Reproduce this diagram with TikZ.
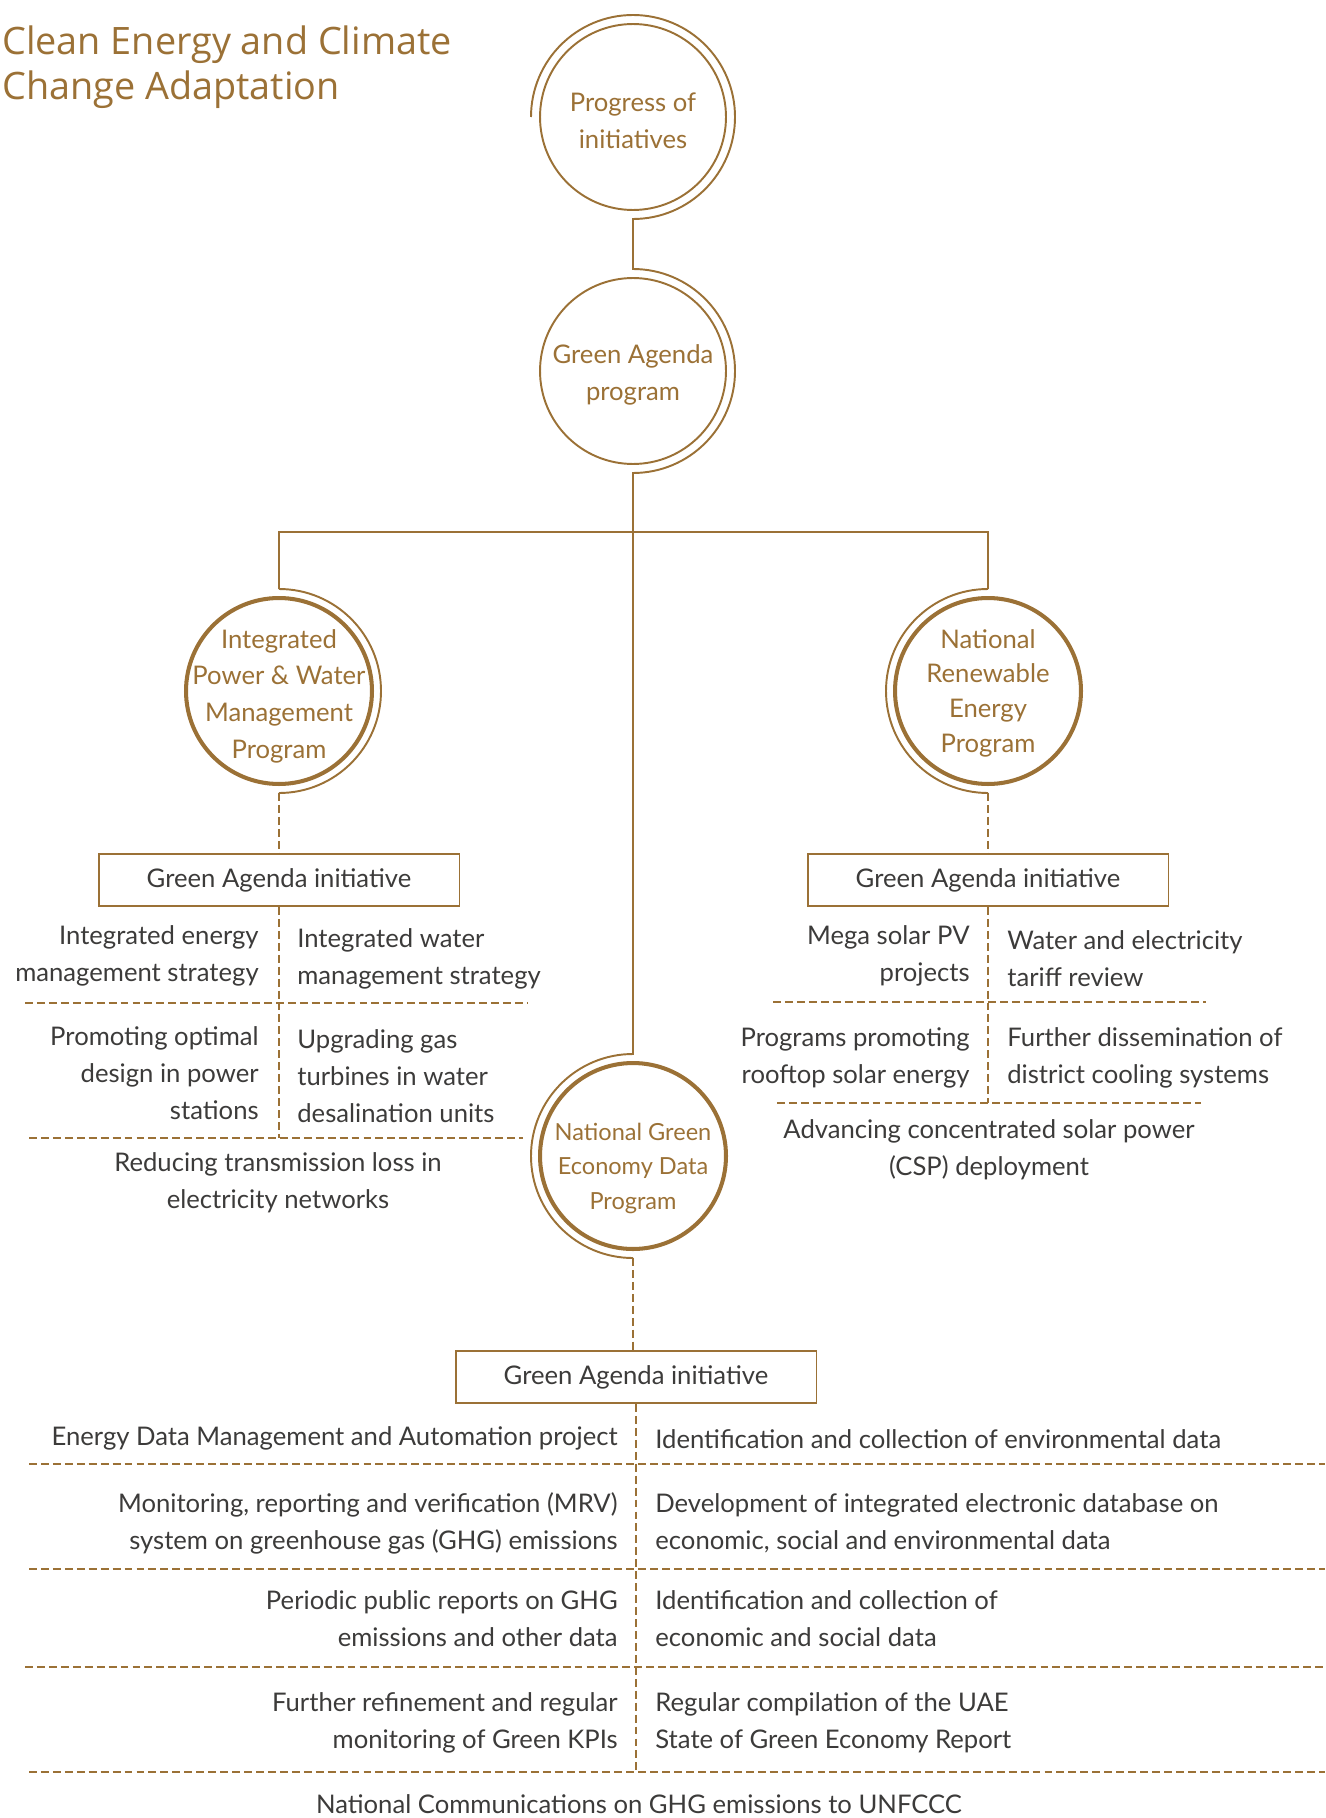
\documentclass[tikz,border=0pt]{standalone}
\usepackage{fontspec}
\setmainfont{Lato}
\newfontfamily\titlefont{Open Sans}
\usetikzlibrary{calc}
\definecolor{gold}{RGB}{155,113,54}
\definecolor{ink}{RGB}{60,59,58}
\tikzset{
    ring/.style = {draw = gold, circle, line width = 1.1pt, minimum size = 3.72cm, inner sep = 0pt},
    thick ring/.style = {ring, line width = 2.3pt},
    gtext/.style = {text = gold, align = center, inner sep = 0pt},
    halo/.style = {draw = gold, line width = 1.1pt},
    dline/.style = {draw = gold, line width = 1.1pt, dash pattern = on 4.5pt off 2.3pt},
    ibox/.style = {draw = gold, line width = 1.1pt, minimum width = 7.22cm, minimum height = 1.04cm, text = ink},
    ltext/.style = {anchor = east, align = right, inner sep = 0pt, text = ink},
    rtext/.style = {anchor = west, align = left, inner sep = 0pt, text = ink},
    ctext/.style = {align = center, inner sep = 0pt, text = ink}
}

\begin{document}
\begin{tikzpicture}[x = 0.02cm, y = 0.02cm, font = \fontsize{14.6}{21}\selectfont]
    \useasboundingbox (0,0) rectangle (1325,-1818);
    \node(title)[anchor = north west, inner sep = 0pt, align = left, text = gold, font = \titlefont\fontsize{21.5}{26}\selectfont] at (2,-25) {Clean Energy and Climate\\Change Adaptation};
    \draw 
    (633,-117)node(1)[ring, label = {[name = t1, gtext, yshift = -2pt]center:Progress of\\initiatives}]{}
    (633,-371)node(2)[ring, label = {[name = t2, gtext, yshift = -2.2pt]center:Green Agenda\\program}]{}
    (279,-691)node(3)[thick ring, label = {[name = t3, gtext, yshift = -3pt]center:Integrated\\Power \& Water\\Management\\Program}]{}
    (988,-691)node(5)[thick ring, label = {[name = t5, gtext, yshift = -1.2pt, font = \fontsize{14.6}{19.8}\selectfont]center:National\\Renewable\\Energy\\Program}]{}
    (633,-1156)node(4)[thick ring, label = {[name = t4, gtext, yshift = -7pt, font = \fontsize{13.4}{19.8}\selectfont]center:National Green\\Economy Data\\Program}]{};
    %
    \coordinate (bar) at (633,-532);
    \draw [halo]($(1.center)+(-102,0)$) arc[start angle = 180, end angle = -90, radius = 102]
        --($(2.center)+(0,102)$) arc[start angle = 90, end angle = -90, radius = 102]
        --($(4.center)+(0,102)$) arc[start angle = 90, end angle = 270, radius = 102];
    \draw [halo]($(3.center)+(0,102)$) |-(bar) -|($(5.center)+(0,102)$);
    \draw [halo]($(3.center)+(0,102)$) arc[start angle = 90, end angle = -90, radius = 102];
    \draw [halo]($(5.center)+(0,102)$) arc[start angle = 90, end angle = 270, radius = 102];
    %
    \draw 
    (279,-880)node(b3)[ibox]{Green Agenda initiative}
    (988,-880)node(b5)[ibox]{Green Agenda initiative}
    (636,-1377)node(b4)[ibox]{Green Agenda initiative};
    \draw [dline]($(3.center)+(0,-102)$)--(b3);
    \draw [dline]($(5.center)+(0,-102)$)--(b5);
    \draw [dline]($(4.center)+(0,-102)$)--(4 |- b4.north);
    %
    \coordinate (e3) at (279,-1138);
    \coordinate (e5) at (988,-1103);
    \coordinate (e4) at (636,-1773);
    \draw [dline](b3)--(e3);
    \draw [dline](b5)--(e5);
    \draw [dline](b4)--(e4);
    %
    \draw 
    (259,-956)node(l31)[ltext]{Integrated energy\\management strategy}
    (297,-959)node(r31)[rtext]{Integrated water\\management strategy}
    (259,-1073)node(l32)[ltext]{Promoting optimal\\design in power\\stations}
    (297,-1076)node(r32)[rtext]{Upgrading gas\\turbines in water\\desalination units}
    (278,-1183)node(c33)[ctext]{Reducing transmission loss in\\electricity networks};
    \draw [dline](25,-1003)--(528,-1003);
    \draw [dline](29,-1138)--(523,-1138);
    %
    \draw 
    (970,-956)node(l51)[ltext]{Mega solar PV\\projects}
    (1007,-959)node(r51)[rtext]{Water and electricity\\tariff review}
    (970,-1058)node(l52)[ltext]{Programs promoting\\rooftop solar energy}
    (1007,-1058)node(r52)[rtext]{Further dissemination of\\district cooling systems}
    (989,-1150)node(c53)[ctext]{Advancing concentrated solar power\\(CSP) deployment};
    \draw [dline](773,-1002)--(1206,-1002);
    \draw [dline](777,-1103)--(1201,-1103);
    %
    \draw 
    (618,-1438)node(l41)[ltext]{Energy Data Management and Automation project}
    (655,-1439)node(r41)[rtext]{Identification and collection of environmental data}
    (618,-1523)node(l42)[ltext]{Monitoring, reporting and verification (MRV)\\system on greenhouse gas (GHG) emissions}
    (655,-1523)node(r42)[rtext]{Development of integrated electronic database on\\economic, social and environmental data}
    (618,-1619)node(l43)[ltext]{Periodic public reports on GHG\\emissions and other data}
    (655,-1619)node(r43)[rtext]{Identification and collection of\\economic and social data}
    (618,-1723)node(l44)[ltext]{Further refinement and regular\\monitoring of Green KPIs}
    (655,-1723)node(r44)[rtext]{Regular compilation of the UAE\\State of Green Economy Report}
    (639,-1813)node(c45)[ctext, anchor = base]{National Communications on GHG emissions to UNFCCC};
    \draw [dline](29,-1464)--(1325,-1464);
    \draw [dline](29,-1569)--(1325,-1569);
    \draw [dline](25,-1667)--(1325,-1667);
    \draw [dline](29,-1772)--(1325,-1772);
\end{tikzpicture}
\end{document}
